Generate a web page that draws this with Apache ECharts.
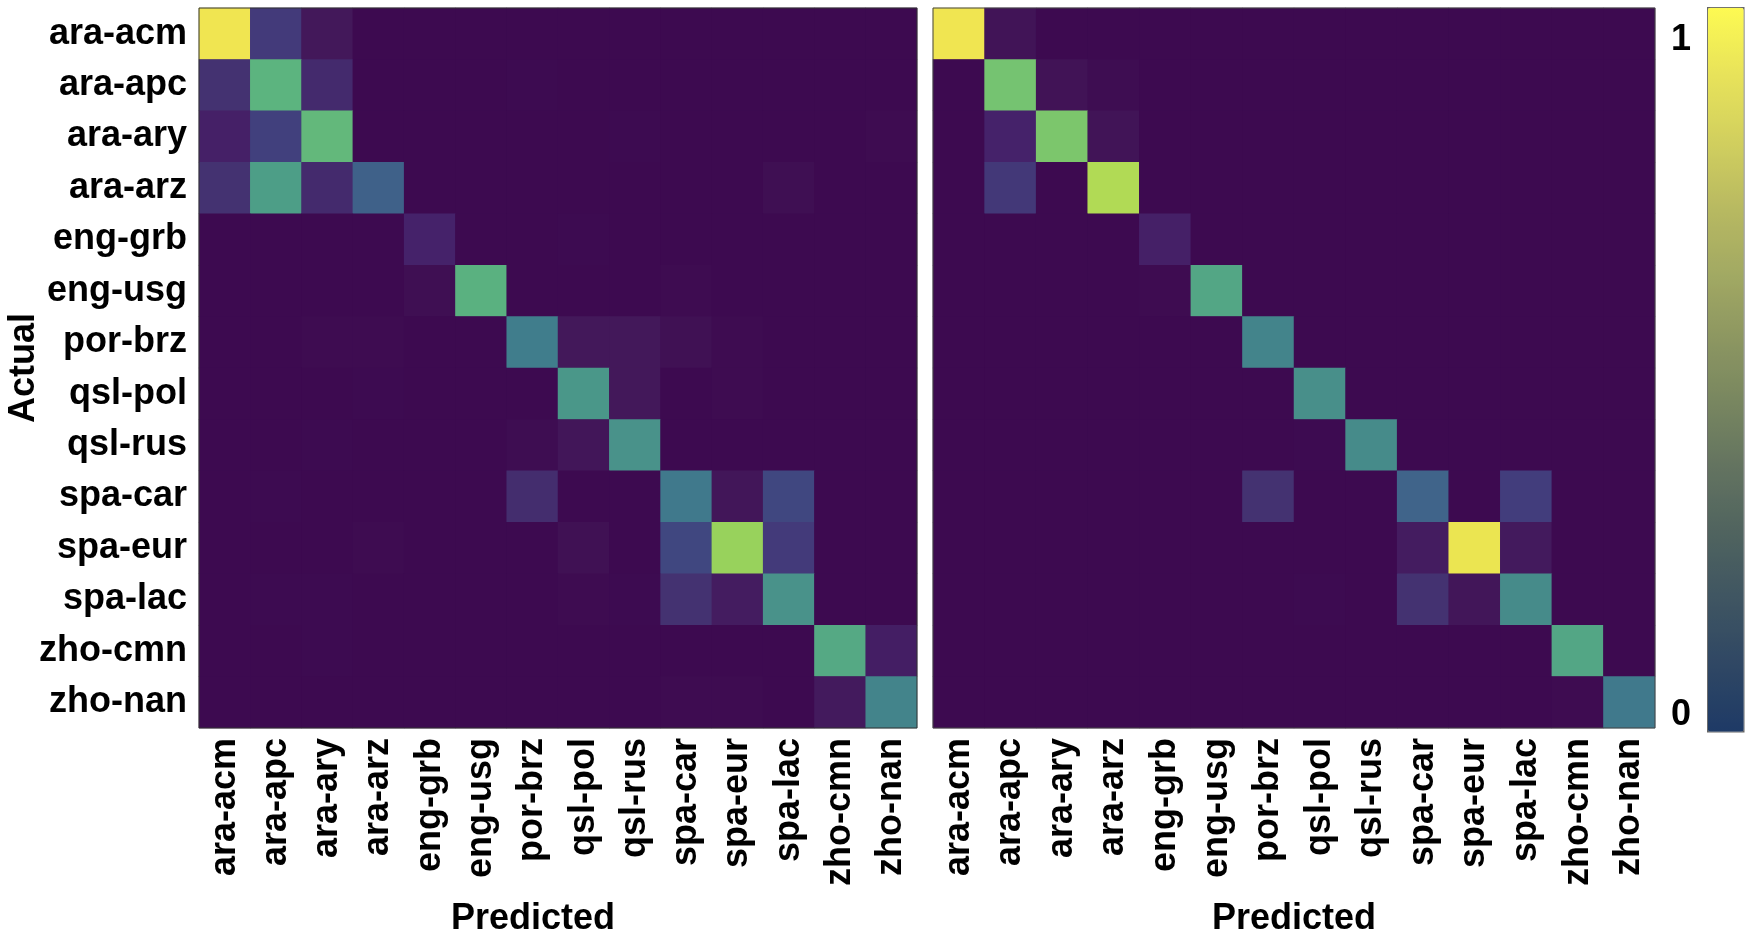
<!DOCTYPE html>
<html>
<head>
<meta charset="utf-8">
<script src="https://cdn.jsdelivr.net/npm/echarts@6/dist/echarts.min.js"></script>
<style>
html,body{margin:0;padding:0;background:#fff;}
#chart{width:1752px;height:942px;}
</style>
</head>
<body>
<div id="chart"></div>
<script>
const categories = ['ara-acm','ara-apc','ara-ary','ara-arz','eng-grb','eng-usg','por-brz','qsl-pol','qsl-rus','spa-car','spa-eur','spa-lac','zho-cmn','zho-nan'];

// rows = actual, cols = predicted (left panel)
const leftMatrix = [
  [0.98,0.25,0.10,0,0,0,0,0,0,0,0,0,0,0],
  [0.21,0.65,0.18,0,0,0,0.01,0,0,0,0,0,0,0],
  [0.14,0.27,0.67,0,0,0,0,0,0.01,0,0,0,0,0.02],
  [0.21,0.56,0.18,0.37,0,0,0,0,0,0,0,0.05,0,0],
  [0,0,0,0,0.15,0,0,0.01,0,0,0,0,0,0],
  [0,0,0,0,0.05,0.64,0,0,0,0.02,0,0,0,0],
  [0,0,0.02,0.02,0,0,0.45,0.10,0.10,0.06,0.02,0,0,0],
  [0,0,0,0.01,0,0,0,0.53,0.10,0,0.02,0,0,0],
  [0,0,0.01,0,0,0,0.03,0.09,0.51,0,0,0,0,0],
  [0,0.01,0,0,0,0,0.19,0,0,0.44,0.09,0.29,0,0],
  [0,0,0,0.02,0,0,0,0.06,0,0.29,0.80,0.25,0,0],
  [0,0.01,0.01,0,0,0,0,0.02,0.01,0.21,0.12,0.51,0,0],
  [0,0,0.01,0,0,0,0,0,0,0,0,0,0.61,0.13],
  [0,0,0,0,0,0,0,0,0,0.02,0.02,0,0.11,0.47]
];

// right panel
const rightMatrix = [
  [0.98,0.08,0,0,0,0,0,0,0,0,0,0,0,0],
  [0,0.72,0.07,0.03,0,0,0,0,0,0,0,0,0,0],
  [0,0.15,0.74,0.08,0,0,0,0,0,0,0,0,0,0],
  [0,0.24,0,0.85,0,0,0,0,0,0,0,0,0,0],
  [0,0,0,0,0.14,0,0,0,0,0,0,0,0,0],
  [0,0,0,0,0.02,0.60,0,0,0,0,0,0,0,0],
  [0,0,0,0,0,0,0.47,0,0,0,0,0,0,0],
  [0,0,0,0,0,0,0,0.50,0,0,0,0,0,0],
  [0,0,0,0,0,0,0,0.01,0.49,0,0,0,0,0],
  [0,0,0,0,0,0,0.21,0,0,0.38,0,0.26,0,0],
  [0,0,0,0,0,0,0,0,0,0.12,0.97,0.11,0,0],
  [0,0,0,0,0,0,0,0.01,0,0.21,0.09,0.49,0,0],
  [0,0,0,0,0,0,0,0,0,0,0,0,0.60,0],
  [0,0,0,0,0,0,0,0,0,0,0,0,0.02,0.44]
];

const colorbarTicks = [0, 1];

const cellPalette = ['#3d0a50','#3f0f53','#43185a','#45226a','#44306f','#433a7a','#3f4a82','#3f5a88','#406b8b','#407d8c','#488f8a','#4c9c88','#53a685','#5cb47f','#6ebf76','#80c86a','#98d25c','#b1da55','#cadf52','#e3e351','#f8e751'];
const barPalette = ['#1e3a66','#2f4764','#3f5562','#4f635f','#637360','#788660','#8d9761','#a3aa63','#b9ba61','#d2d05e','#e8e35a','#fdfa52'];

function toData(m){
  const out = [];
  m.forEach((row, r) => row.forEach((v, c) => out.push([c, r, v])));
  return out;
}

const FONT = 'Liberation Sans, Arial, Helvetica, sans-serif';
const lbl = {fontFamily: FONT, fontWeight: 'bold', fontSize: 36, color: '#000'};
const panelL = {left: 199, top: 8, width: 718, height: 720};
const panelR = {left: 933, top: 8, width: 722, height: 720};
const hiddenAxis = {type: 'value', show: false, min: 0, max: 1};

const chart = echarts.init(document.getElementById('chart'));
chart.setOption({
  animation: false,
  backgroundColor: '#fff',
  grid: [
    Object.assign({show: true, backgroundColor: cellPalette[0], borderWidth: 0}, panelL),
    Object.assign({show: true, backgroundColor: cellPalette[0], borderWidth: 0}, panelR),
    {left: 1707, top: 7, width: 36, height: 724, show: false},
    Object.assign({show: true, z: 10, backgroundColor: 'transparent', borderColor: '#333', borderWidth: 1}, panelL),
    Object.assign({show: true, z: 10, backgroundColor: 'transparent', borderColor: '#444', borderWidth: 1}, panelR)
  ],
  xAxis: [
    {type: 'category', gridIndex: 0, data: categories,
      name: 'Predicted', nameLocation: 'middle', nameGap: 173, nameMoveOverlap: false,
      nameTextStyle: Object.assign({}, lbl, {padding: [0, 50, 0, 0]}),
      axisLine: {show: false}, axisTick: {show: false}, splitLine: {show: false},
      axisLabel: Object.assign({}, lbl, {rotate: 90, margin: 10, interval: 0})},
    {type: 'category', gridIndex: 1, data: categories,
      name: 'Predicted', nameLocation: 'middle', nameGap: 173, nameMoveOverlap: false,
      nameTextStyle: lbl,
      axisLine: {show: false}, axisTick: {show: false}, splitLine: {show: false},
      axisLabel: Object.assign({}, lbl, {rotate: 90, margin: 10, interval: 0})},
    Object.assign({gridIndex: 2}, hiddenAxis),
    Object.assign({gridIndex: 3}, hiddenAxis),
    Object.assign({gridIndex: 4}, hiddenAxis)
  ],
  yAxis: [
    {type: 'category', gridIndex: 0, data: categories, inverse: true,
      name: 'Actual', nameLocation: 'middle', nameGap: 157, nameMoveOverlap: false,
      nameTextStyle: lbl,
      axisLine: {show: false}, axisTick: {show: false}, splitLine: {show: false},
      axisLabel: Object.assign({}, lbl, {margin: 12, interval: 0})},
    {type: 'category', gridIndex: 1, data: categories, inverse: true,
      axisLine: {show: false}, axisTick: {show: false}, splitLine: {show: false},
      axisLabel: {show: false}},
    {type: 'value', gridIndex: 2, min: -0.023, max: 1.0496, position: 'left',
      axisLine: {show: false}, axisTick: {show: false}, splitLine: {show: false},
      axisLabel: Object.assign({}, lbl, {margin: 16, customValues: colorbarTicks,
        formatter: v => (colorbarTicks.indexOf(v) >= 0 ? String(v) : '')})},
    Object.assign({gridIndex: 3}, hiddenAxis),
    Object.assign({gridIndex: 4}, hiddenAxis)
  ],
  visualMap: [
    {type: 'continuous', show: false, min: 0, max: 1, seriesIndex: [0, 1],
      inRange: {color: cellPalette}},
    {type: 'continuous', show: true, min: 0, max: 1, seriesIndex: [],
      orient: 'vertical', left: 1707, top: 7, itemWidth: 36, itemHeight: 724,
      padding: 0, calculable: false, hoverLink: false,
      borderColor: '#666', borderWidth: 1.5,
      inRange: {color: barPalette}}
  ],
  series: [
    {type: 'heatmap', xAxisIndex: 0, yAxisIndex: 0, data: toData(leftMatrix),
      itemStyle: {borderWidth: 0}, emphasis: {disabled: true}},
    {type: 'heatmap', xAxisIndex: 1, yAxisIndex: 1, data: toData(rightMatrix),
      itemStyle: {borderWidth: 0}, emphasis: {disabled: true}}
  ]
});
</script>
</body>
</html>
